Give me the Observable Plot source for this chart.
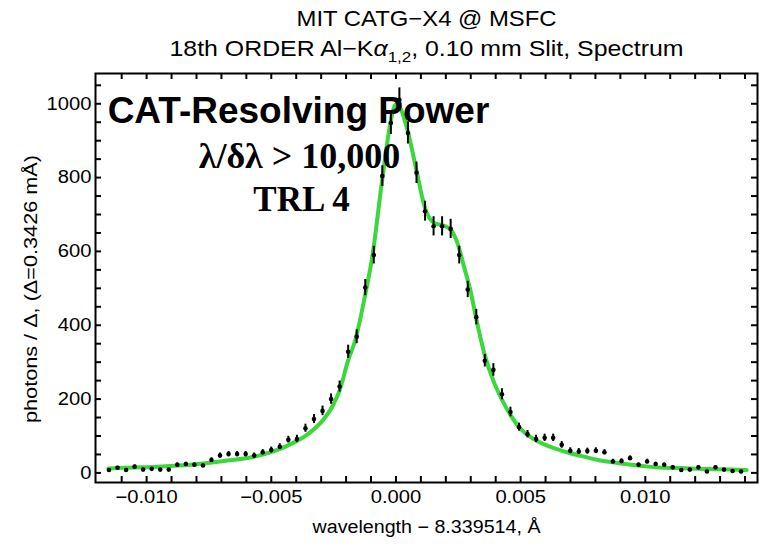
<!DOCTYPE html>
<html>
<head>
<meta charset="utf-8">
<script src="https://cdn.jsdelivr.net/npm/d3@7"></script>
<script src="https://cdn.jsdelivr.net/npm/@observablehq/plot@0.6"></script>
<style>
  html, body { margin: 0; padding: 0; background: #fff; }
</style>
</head>
<body>
<div id="chart"></div>
<script>
// Bin centres (wavelength − 8.339514 Å), one bin per Δ = 0.3426 mÅ
const binCenters = [
  -0.011510, -0.011167, -0.010825, -0.010482, -0.010140, -0.009797, -0.009454, -0.009112,
  -0.008769, -0.008427, -0.008084, -0.007741, -0.007399, -0.007056, -0.006714, -0.006371,
  -0.006028, -0.005686, -0.005343, -0.005001, -0.004658, -0.004315, -0.003973, -0.003630,
  -0.003288, -0.002945, -0.002602, -0.002260, -0.001917, -0.001575, -0.001232, -0.000889,
  -0.000547, -0.000204, 0.000138, 0.000481, 0.000824, 0.001166, 0.001509, 0.001851,
  0.002194, 0.002537, 0.002879, 0.003222, 0.003564, 0.003907, 0.004250, 0.004592,
  0.004935, 0.005277, 0.005620, 0.005963, 0.006305, 0.006648, 0.006990, 0.007333,
  0.007676, 0.008018, 0.008361, 0.008703, 0.009046, 0.009389, 0.009731, 0.010074,
  0.010416, 0.010759, 0.011102, 0.011444, 0.011787, 0.012129, 0.012472, 0.012815,
  0.013157, 0.013500, 0.013842
];

// Photon counts per bin
const counts = [
  8, 14, 8, 17, 9, 11, 9, 9, 22, 24, 22, 20, 35, 47, 51, 51,
  51, 47, 56, 62, 71, 90, 92, 121, 146, 168, 200, 234, 328, 369, 502, 590,
  804, 948, 1011, 921, 813, 709, 668, 668, 661, 590, 497, 422, 304, 279, 213, 165,
  124, 105, 92, 95, 95, 76, 60, 58, 59, 60, 56, 31, 32, 40, 22, 31,
  24, 22, 15, 8, 9, 15, 4, 15, 9, 5, 4
];

// One-sigma counting errors per bin
const countErrors = [
  3, 4, 3, 4, 3, 3, 3, 3, 5, 5, 5, 4, 6, 7, 7, 7,
  7, 7, 7, 8, 8, 9, 10, 11, 12, 13, 14, 15, 18, 19, 22, 24,
  28, 31, 32, 30, 29, 27, 26, 26, 26, 24, 22, 21, 17, 17, 15, 13,
  11, 10, 10, 10, 10, 9, 8, 8, 8, 8, 7, 6, 6, 6, 5, 6,
  5, 5, 4, 3, 3, 4, 3, 4, 3, 3, 3
];

// Model fit (green curve)
const fitX = [
  -0.01153, -0.01092, -0.00956, -0.00823, -0.00691, -0.00554, -0.00422, -0.00353,
  -0.00289, -0.00255, -0.00225, -0.00194, -0.00161, -0.00127, -0.00094, -0.00056,
  -0.00023, -0.00008, 0.00005, 0.00020, 0.00047, 0.00080, 0.00116, 0.00151,
  0.00194, 0.00221, 0.00248, 0.00274, 0.00300, 0.00321, 0.00355, 0.00391,
  0.00424, 0.00462, 0.00495, 0.00542, 0.00609, 0.00676, 0.00743, 0.00810,
  0.00877, 0.00944, 0.01011, 0.01078, 0.01145, 0.01212, 0.01278, 0.01406
];
const fitY = [
  12, 14, 17, 22, 32, 46, 78, 105,
  146, 180, 225, 300, 365, 470, 590, 790,
  945, 990, 1000, 985, 927, 827, 719, 678,
  669, 658, 620, 556, 490, 421, 322, 249,
  200, 154, 123, 96, 73, 58, 46, 35,
  28, 22, 17, 14, 13, 11, 10, 8
];

// Axis ticks and labels
const xTickValues = [-0.010, -0.005, 0.000, 0.005, 0.010];
const yTickValues = [0, 200, 400, 600, 800, 1000];
const xMinorTicks = d3.range(-11, 15).map(k => k / 1000);
const yMinorTicks = d3.range(0, 1051, 50);

const titleLine = "MIT CATG\u2212X4 @ MSFC";
const subtitleParts = ["18th ORDER Al\u2212K", "\u03b1", "1,2", ", 0.10 mm Slit, Spectrum"];
const xLabel = "wavelength \u2212 8.339514, \u00c5";
const yLabel = "photons / \u0394, (\u0394=0.3426 m\u00c5)";
const calloutLines = ["CAT-Resolving Power", "\u03bb/\u03b4\u03bb > 10,000", "TRL 4"];

const points = binCenters.map((x, i) => ({x, y: counts[i], lo: counts[i] - countErrors[i], hi: counts[i] + countErrors[i]}));
const fit = fitX.map((x, i) => ({x, y: fitY[i]}));
const subtitleText = subtitleParts.join("");

const sans = "'Liberation Sans', Arial, Helvetica, sans-serif";
const serif = "'Liberation Serif', 'Times New Roman', serif";

const W = 768, H = 547;
const M = {left: 95, right: 11, top: 73, bottom: 65};
const innerW = W - M.left - M.right;
const innerH = H - M.top - M.bottom;
const xDomain = [-0.01205, 0.0145];
const yDomain = [-26, 1082];

// inward tick length (6px) expressed in each scale's units
const tickPx = 6;
const xTickLen = tickPx * (xDomain[1] - xDomain[0]) / innerW;
const yTickLen = tickPx * (yDomain[1] - yDomain[0]) / innerH;
const tickStyle = {stroke: "black", strokeWidth: 2};

const chart = Plot.plot({
  width: W,
  height: H,
  marginLeft: M.left,
  marginRight: M.right,
  marginTop: M.top,
  marginBottom: M.bottom,
  style: {fontFamily: sans, fontSize: "18px", color: "black", background: "white"},
  x: {domain: xDomain},
  y: {domain: yDomain},
  marks: [
    // fitted line profile
    Plot.line(fit, {x: "x", y: "y", curve: "monotone-x", stroke: "#3ad83a", strokeWidth: 4}),
    // measured counts with error bars
    Plot.ruleX(points, {x: "x", y1: "lo", y2: "hi", stroke: "black", strokeWidth: 2}),
    Plot.dot(points, {x: "x", y: "y", r: 2.3, fill: "black", stroke: null}),
    // short ticks pointing into the frame on all four sides
    Plot.ruleX(xMinorTicks, {x: d => d, y1: yDomain[0], y2: yDomain[0] + yTickLen, ...tickStyle}),
    Plot.ruleX(xMinorTicks, {x: d => d, y1: yDomain[1] - yTickLen, y2: yDomain[1], ...tickStyle}),
    Plot.ruleY(yMinorTicks, {y: d => d, x1: xDomain[0], x2: xDomain[0] + xTickLen, ...tickStyle}),
    Plot.ruleY(yMinorTicks, {y: d => d, x1: xDomain[1] - xTickLen, x2: xDomain[1], ...tickStyle}),
    // tick labels
    Plot.axisX(xTickValues, {anchor: "bottom", tickSize: 0, tickPadding: 8, tickFormat: d3.format(".3f"), label: null, fontSize: 18}),
    Plot.axisY(yTickValues, {anchor: "left", tickSize: 0, tickPadding: 4, tickFormat: d3.format("d"), label: null, fontSize: 18}),
    Plot.frame({stroke: "black", strokeWidth: 2}),
    // axis titles
    Plot.text([xLabel], {text: d => d, frameAnchor: "bottom", dy: 45, lineAnchor: "middle", textAnchor: "middle", fontSize: 18}),
    Plot.text([yLabel], {text: d => d, frameAnchor: "left", dx: -64, dy: 11, rotate: -90, lineAnchor: "middle", textAnchor: "middle", fontSize: 18}),
    // chart title
    Plot.text([titleLine], {text: d => d, frameAnchor: "top", dy: -55, lineAnchor: "middle", textAnchor: "middle", fontSize: 22}),
    Plot.text([subtitleText], {text: d => d, frameAnchor: "top", dy: -25, lineAnchor: "middle", textAnchor: "middle", fontSize: 22}),
    // callout
    Plot.text([calloutLines[0]], {text: d => d, frameAnchor: "top-left", dx: 203, dy: 49, lineAnchor: "bottom", textAnchor: "middle", fontSize: 37, fontWeight: "bold", fontFamily: sans}),
    Plot.text([calloutLines[1]], {text: d => d, frameAnchor: "top-left", dx: 204, dy: 94, lineAnchor: "bottom", textAnchor: "middle", fontSize: 36, fontWeight: "bold", fontFamily: serif}),
    Plot.text([calloutLines[2]], {text: d => d, frameAnchor: "top-left", dx: 206, dy: 137, lineAnchor: "bottom", textAnchor: "middle", fontSize: 35, fontWeight: "bold", fontFamily: serif})
  ]
});

// subtitle with italic alpha and subscript 1,2
d3.select(chart).selectAll("text")
  .filter(function () { return this.textContent === subtitleText; })
  .each(function () {
    const t = d3.select(this);
    t.text(null);
    t.append("tspan").text(subtitleParts[0]);
    t.append("tspan").attr("font-style", "italic").text(subtitleParts[1]);
    t.append("tspan").attr("font-size", "15px").attr("dy", 6).text(subtitleParts[2]);
    t.append("tspan").attr("dy", -6).text(subtitleParts[3]);
  });

document.getElementById("chart").appendChild(chart);

// the typeface is set a little wide: stretch labels horizontally
const stretchTo = (content, length) =>
  d3.select(chart).selectAll("text")
    .filter(function () { return this.textContent === content; })
    .attr("textLength", length).attr("lengthAdjust", "spacingAndGlyphs");
stretchTo(titleLine, 260);
stretchTo(subtitleText, 514);
stretchTo(xLabel, 228);
stretchTo(yLabel, 268);
d3.select(chart).selectAll("g[aria-label$='tick label'] text").each(function () {
  const w = this.getComputedTextLength();
  this.setAttribute("textLength", (w * 1.12).toFixed(1));
  this.setAttribute("lengthAdjust", "spacingAndGlyphs");
});
</script>
</body>
</html>
